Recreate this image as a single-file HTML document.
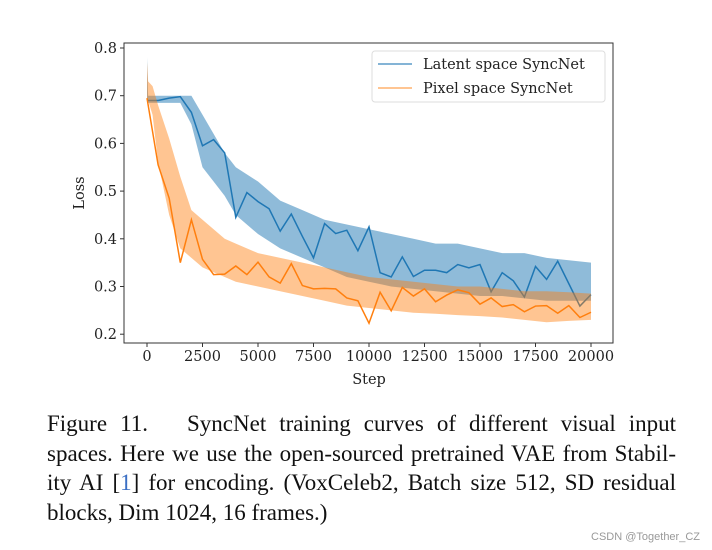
<!DOCTYPE html>
<html><head><meta charset="utf-8"><style>
body{margin:0;background:#fff;width:712px;height:550px;overflow:hidden;position:relative}
#cap{position:absolute;left:47px;top:409px;width:629px;font-family:"Liberation Serif",serif;font-size:23px;line-height:29.6px;color:#111}
#cap div{text-align:justify;text-align-last:justify;white-space:nowrap}
#cap div.last{text-align-last:left}
#wm{position:absolute;right:12px;top:531px;font-family:"Liberation Sans",sans-serif;font-size:11px;color:#999}
</style></head><body>
<svg id="chart" width="712" height="400" style="position:absolute;left:0;top:0" font-family="DejaVu Serif, serif"></svg>
<div id="cap">
<div style="white-space:normal">Figure 11.&nbsp;&nbsp; SyncNet training curves of different visual input</div>
<div style="white-space:normal">spaces. Here we use the open-sourced pretrained VAE from Stabil-</div>
<div style="white-space:normal">ity AI [<span style="color:#3b6fc4">1</span>] for encoding. (VoxCeleb2, Batch size 512, SD residual</div>
<div class="last">blocks, Dim 1024, 16 frames.)</div>
</div>
<div id="wm">CSDN @Together_CZ</div>
<script>
const steps=[0,500,1000,1500,2000,2500,3000,3500,4000,4500,5000,5500,6000,6500,7000,7500,8000,8500,9000,9500,10000,10500,11000,11500,12000,12500,13000,13500,14000,14500,15000,15500,16000,16500,17000,17500,18000,18500,19000,19500,20000];
const latent=[0.69,0.69,0.695,0.698,0.665,0.595,0.608,0.58,0.445,0.497,0.478,0.463,0.416,0.452,0.405,0.36,0.432,0.411,0.418,0.375,0.425,0.329,0.32,0.362,0.321,0.334,0.334,0.329,0.346,0.339,0.346,0.289,0.329,0.312,0.278,0.342,0.315,0.353,0.306,0.259,0.283];
const pixel=[0.695,0.555,0.485,0.35,0.44,0.357,0.325,0.326,0.343,0.325,0.351,0.32,0.307,0.348,0.302,0.295,0.296,0.295,0.276,0.27,0.223,0.288,0.249,0.298,0.28,0.295,0.268,0.282,0.293,0.287,0.263,0.276,0.258,0.262,0.247,0.259,0.26,0.244,0.26,0.235,0.246];
const bandSteps=[0,50,250,500,1000,1500,2000,2500,3000,3500,4000,5000,6000,7000,8000,9000,10000,11000,12000,13000,14000,15000,16000,17000,18000,19000,20000];
const latentHi=[0.78,0.70,0.70,0.70,0.70,0.70,0.70,0.66,0.62,0.58,0.55,0.52,0.48,0.46,0.44,0.43,0.42,0.41,0.40,0.39,0.39,0.38,0.37,0.37,0.36,0.355,0.35];
const latentLo=[0.685,0.685,0.685,0.685,0.685,0.685,0.64,0.55,0.52,0.49,0.45,0.41,0.38,0.36,0.34,0.32,0.31,0.30,0.295,0.29,0.285,0.28,0.28,0.275,0.27,0.27,0.27];
const pixelHi=[0.77,0.73,0.72,0.68,0.61,0.53,0.46,0.44,0.42,0.40,0.39,0.37,0.36,0.35,0.34,0.33,0.32,0.315,0.31,0.305,0.30,0.30,0.295,0.29,0.29,0.288,0.285];
const pixelLo=[0.69,0.69,0.66,0.56,0.45,0.38,0.36,0.34,0.33,0.32,0.31,0.30,0.29,0.28,0.27,0.26,0.255,0.25,0.245,0.243,0.24,0.238,0.235,0.23,0.225,0.228,0.23];
const xTicks=[0,2500,5000,7500,10000,12500,15000,17500,20000];
const yTicks=[0.2,0.3,0.4,0.5,0.6,0.7,0.8];
const X=v=>147+v*(444/20000), Y=v=>48+(0.8-v)*477;
const svg=document.getElementById('chart'),NS='http://www.w3.org/2000/svg';
function mk(t,a,p){const e=document.createElementNS(NS,t);for(const k in a)e.setAttribute(k,a[k]);(p||svg).appendChild(e);return e;}
function band(hi,lo,col,op,name){const pts=bandSteps.map((s,i)=>X(s)+','+Y(hi[i])).concat(bandSteps.map((s,i)=>X(s)+','+Y(lo[i])).reverse());
const e=mk('polygon',{points:pts.join(' '),fill:col,'fill-opacity':op});

}
function line(vals,col,name){const e=mk('polyline',{points:steps.map((s,i)=>X(s)+','+Y(vals[i])).join(' '),fill:'none',stroke:col,'stroke-width':1.5});

}
band(latentHi,latentLo,'#1f77b4',0.5,'latent-raw-band');
line(latent,'#1f77b4','latent-smoothed-line');
band(pixelHi,pixelLo,'#ff7f0e',0.45,'pixel-raw-band');
line(pixel,'#ff7f0e','pixel-smoothed-line');
const fr=mk('rect',{x:124,y:43,width:489,height:300,fill:'none',stroke:'#333','stroke-width':1});


xTicks.forEach(t=>{mk('line',{x1:X(t),x2:X(t),y1:343,y2:347,stroke:'#333'});
const e=mk('text',{x:X(t),y:361,'text-anchor':'middle','font-size':14.5,fill:'#222'});e.textContent=t;

});
yTicks.forEach(t=>{mk('line',{x1:120,x2:124,y1:Y(t),y2:Y(t),stroke:'#333'});
const e=mk('text',{x:117,y:Y(t)+5,'text-anchor':'end','font-size':14.5,fill:'#222'});e.textContent=t.toFixed(1);

});
let e=mk('text',{x:369,y:384,'text-anchor':'middle','font-size':14.5,fill:'#222'});e.textContent='Step';


e=mk('text',{x:0,y:0,'text-anchor':'middle','font-size':14.5,fill:'#222',transform:'translate(84,193) rotate(-90)'});e.textContent='Loss';


const lg=mk('g',{});


mk('rect',{x:372,y:51,width:233,height:51,rx:3,fill:'#fff','fill-opacity':0.8,stroke:'#ddd'},lg);
mk('line',{x1:378,x2:412,y1:64,y2:64,stroke:'#1f77b4','stroke-opacity':0.55,'stroke-width':2},lg);
mk('line',{x1:378,x2:412,y1:88,y2:88,stroke:'#ff7f0e','stroke-opacity':0.45,'stroke-width':2},lg);
e=mk('text',{x:423,y:69,'font-size':14.5,fill:'#222'},lg);e.textContent='Latent space SyncNet';


e=mk('text',{x:423,y:93,'font-size':14.5,fill:'#222'},lg);e.textContent='Pixel space SyncNet';


</script>
</body></html>
